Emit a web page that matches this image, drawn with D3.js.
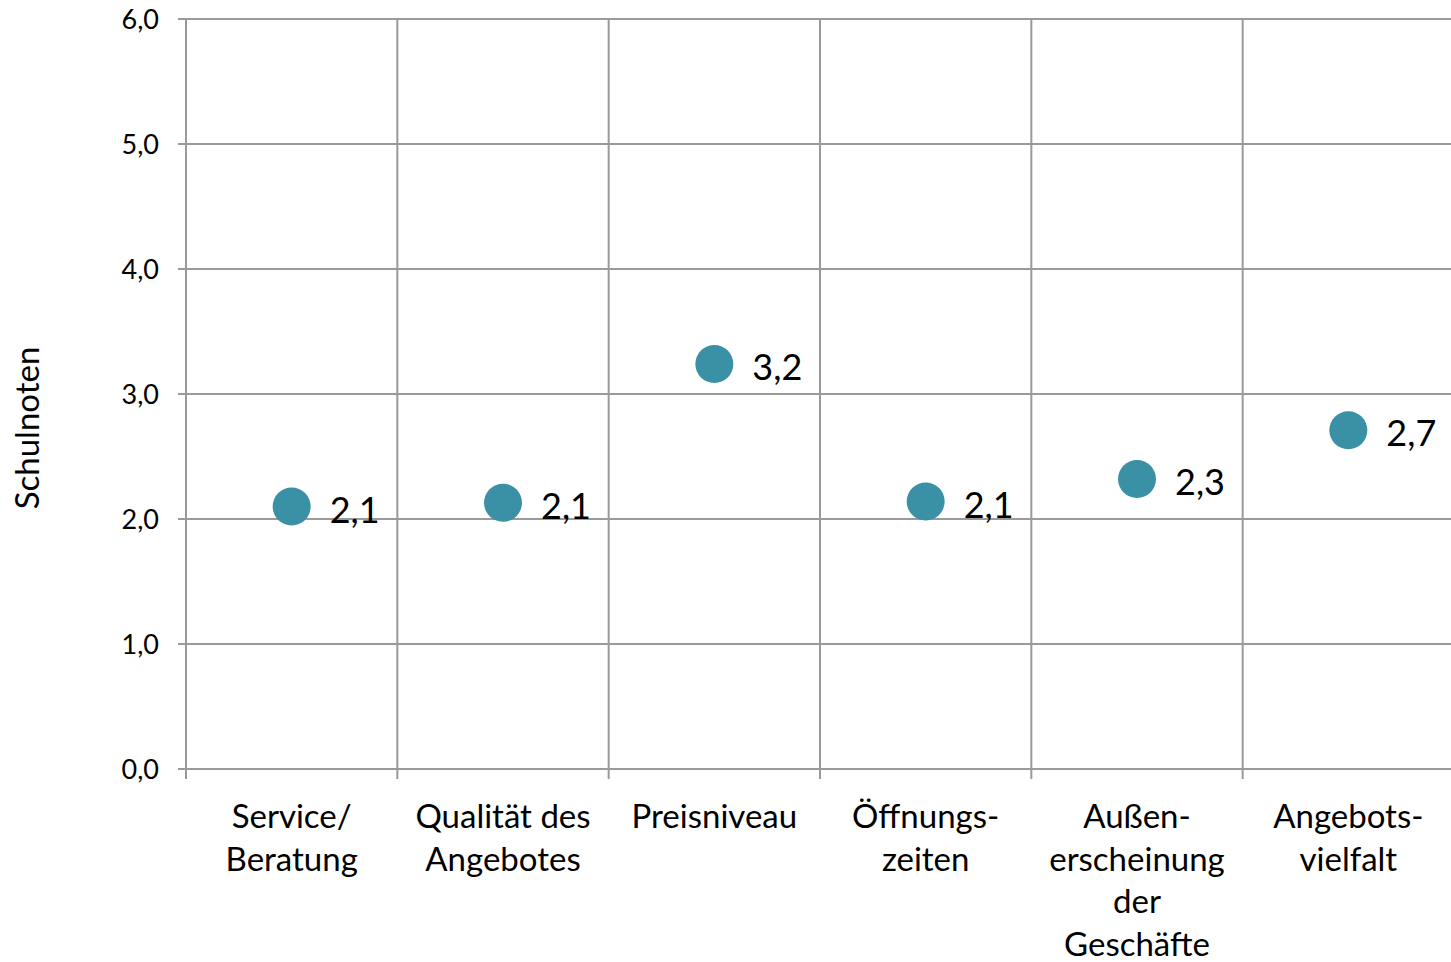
<!DOCTYPE html>
<html>
<head>
<meta charset="utf-8">
<script src="https://cdn.jsdelivr.net/npm/d3@7"></script>
<style>
  body { margin: 0; background: #fff; overflow: hidden; }
  svg { display: block; font-family: Lato, "Open Sans", sans-serif; }
</style>
</head>
<body>
<svg id="chart"></svg>
<script>
// Data
const categories = [
  ["Service/", "Beratung"],
  ["Qualität des", "Angebotes"],
  ["Preisniveau"],
  ["Öffnungs-", "zeiten"],
  ["Außen-", "erscheinung", "der", "Geschäfte"],
  ["Angebots-", "vielfalt"]
];
const values = [2.10, 2.13, 3.24, 2.14, 2.32, 2.71];
const valueLabels = ["2,1", "2,1", "3,2", "2,1", "2,3", "2,7"];
const yTicks = [0, 1, 2, 3, 4, 5, 6];

const W = 1451, H = 962;
const margin = {top: 19, right: -3, bottom: 193, left: 186};
const width = W - margin.left - margin.right;
const height = H - margin.top - margin.bottom;

const svg = d3.select("#chart").attr("width", W).attr("height", H);
const g = svg.append("g").attr("transform", `translate(${margin.left},${margin.top})`);

const x = d3.scaleBand().domain(d3.range(categories.length)).range([0, width]);
const y = d3.scaleLinear().domain([0, 6]).range([height, 0]);

const gridColor = "#9a9a9a";

// horizontal grid + y ticks
g.selectAll(".hgrid")
  .data(yTicks)
  .enter().append("line")
  .attr("x1", -8).attr("x2", width)
  .attr("y1", d => y(d)).attr("y2", d => y(d))
  .attr("stroke", gridColor).attr("stroke-width", 2);

// vertical grid at category boundaries
g.selectAll(".vgrid")
  .data(d3.range(categories.length))
  .enter().append("line")
  .attr("x1", d => x(d)).attr("x2", d => x(d))
  .attr("y1", 0).attr("y2", height + 10)
  .attr("stroke", gridColor).attr("stroke-width", 2);

// y tick labels
g.selectAll(".ylab")
  .data(yTicks)
  .enter().append("text")
  .attr("x", -27)
  .attr("y", d => y(d))
  .attr("dy", "0.36em")
  .attr("text-anchor", "end")
  .attr("font-size", 27)
  .attr("fill", "#000")
  .text(d => d3.format(".1f")(d).replace(".", ","));

// axis title
svg.append("text")
  .attr("transform", `translate(39,428) rotate(-90)`)
  .attr("text-anchor", "middle")
  .attr("font-size", 33)
  .text("Schulnoten");

// category labels
const cat = g.selectAll(".cat")
  .data(categories)
  .enter().append("text")
  .attr("text-anchor", "middle")
  .attr("font-size", 33)
  .attr("transform", (d, i) => `translate(${x(i) + x.bandwidth() / 2},${height + 59})`);
cat.selectAll("tspan")
  .data(d => d)
  .enter().append("tspan")
  .attr("x", 0)
  .attr("y", (d, i) => i * 42.5)
  .text(d => d);

// dots
g.selectAll(".dot")
  .data(values)
  .enter().append("circle")
  .attr("cx", (d, i) => x(i) + x.bandwidth() / 2)
  .attr("cy", d => y(d))
  .attr("r", 19)
  .attr("fill", "#3a90a4");

// value labels
g.selectAll(".val")
  .data(values)
  .enter().append("text")
  .attr("x", (d, i) => x(i) + x.bandwidth() / 2 + 38)
  .attr("y", d => y(d))
  .attr("dy", "0.45em")
  .attr("font-size", 36)
  .text((d, i) => valueLabels[i]);
</script>
</body>
</html>
